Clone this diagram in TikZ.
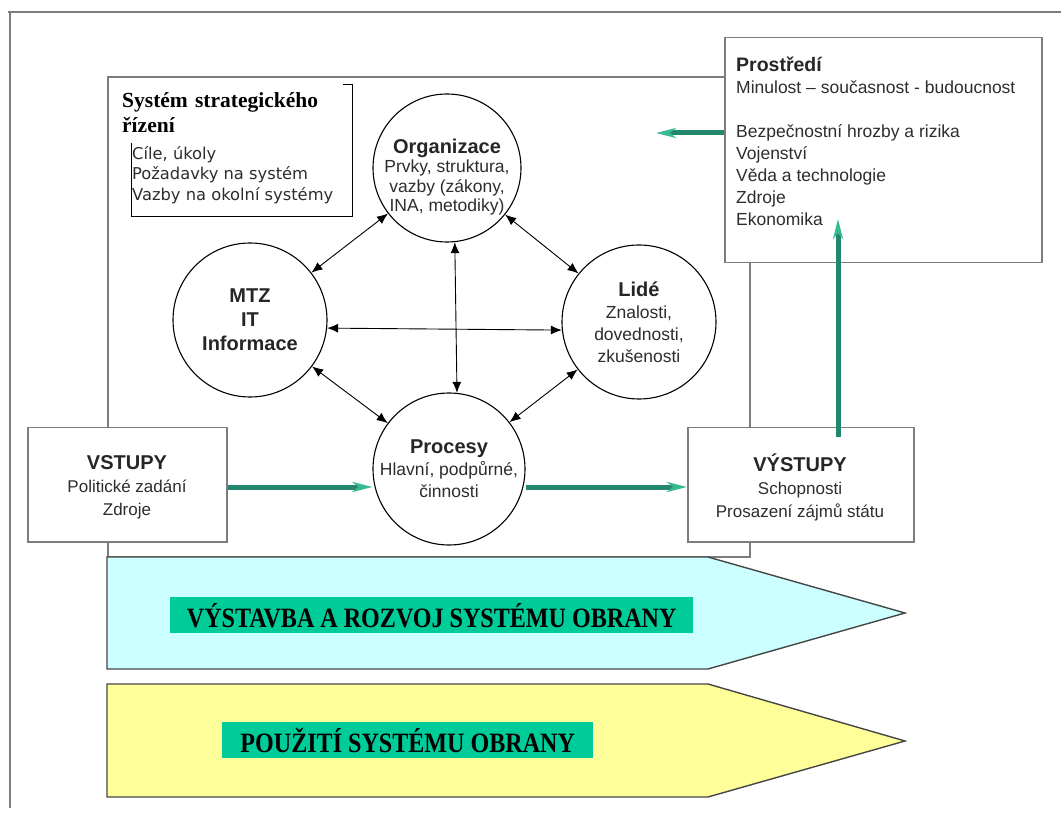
\documentclass[tikz,border=0pt]{standalone}
\usepackage{fontspec}
\usepackage{graphicx}
\setmainfont{Liberation Sans}
\newfontfamily\serifbold{Liberation Serif}[BoldFont={* Bold}]
\newfontfamily\plainsans{DejaVu Sans}
\usetikzlibrary{arrows.meta}

\definecolor{framegray}{RGB}{125,125,125}
\definecolor{flowgreen}{RGB}{35,135,110}
\definecolor{tipgreen}{RGB}{55,185,145}
\definecolor{labelgreen}{RGB}{0,204,153}
\definecolor{cyanfill}{RGB}{204,255,255}
\definecolor{yellowfill}{RGB}{255,255,153}
\definecolor{bodytext}{RGB}{45,45,45}
\definecolor{bandedge}{RGB}{70,70,70}

\tikzset{
  frameline/.style={draw=framegray, line width=1.5pt},
  ring/.style={draw=black, circle, line width=1.1pt, fill=white, inner sep=0pt,
    align=center, text=bodytext},
  infobox/.style={draw=framegray, line width=1.5pt, fill=white, inner sep=0pt},
  link/.style={line width=0.9pt, {Latex[length=11pt,width=9pt]}-{Latex[length=11pt,width=9pt]}},
  flow/.style={draw=flowgreen, line width=5pt,
    -{Stealth[length=20pt,width=10pt,inset=6pt,color=tipgreen]}},
  band/.style={draw=bandedge, line width=1.4pt},
  bandlabel/.style={fill=labelgreen, inner sep=0pt, anchor=north west,
    font=\serifbold\bfseries\fontsize{28}{30}\selectfont},
}

\begin{document}
\begin{tikzpicture}[x=1pt,y=-1pt]
\useasboundingbox (0,0) rectangle (1061,818);
\fill[white] (0,0) rectangle (1061,818);

% outer frame
\draw[frameline] (8,12) -- (1061,12);
\draw[frameline] (10,12) -- (10,808);

% inner system frame
\draw[frameline] (108,77) rectangle (750,557);

% strategic management box
\node[draw=black, line width=1.1pt, inner sep=0pt, minimum width=221pt, minimum height=132pt,
  anchor=north west] (smbox) at (131,84) {};
\node[fill=white, inner sep=0pt, minimum width=232pt, minimum height=62pt, anchor=north west,
  text width=224pt, align=left, font=\serifbold\bfseries\fontsize{21.5}{25}\selectfont]
  (smtitle) at (111,81) {\hspace*{7pt}Systém strategického\\\hspace*{7pt}řízení};
\node[inner sep=0pt, anchor=north west, align=left, text=bodytext,
  font=\plainsans\fontsize{16.3}{20.5}\selectfont] (smbody) at (132,146)
  {Cíle, úkoly\\Požadavky na systém\\Vazby na okolní systémy};

% environment box
\node[infobox, minimum width=317pt, minimum height=225pt, anchor=north west] (env) at (724,37) {};
\node[inner sep=0pt, anchor=north west, align=left, text=bodytext,
  font=\fontsize{17.5}{22}\selectfont] (envtext) at (736,57)
  {{\bfseries\fontsize{19.5}{22}\selectfont\color{black!85}Prostředí}\\
   Minulost – současnost - budoucnost\\
   \mbox{}\\
   Bezpečnostní hrozby a rizika\\
   Vojenství\\
   Věda a technologie\\
   Zdroje\\
   Ekonomika};

% inputs and outputs
\node[infobox, minimum width=199pt, minimum height=114pt, anchor=north west] (vst) at (27,427) {};
\node[align=center, text=bodytext, font=\fontsize{17}{23}\selectfont] (vsttext) at (127,487)
  {{\bfseries\fontsize{20}{23}\selectfont\color{black!85}VSTUPY}\\Politické zadání\\Zdroje};
\node[infobox, minimum width=226pt, minimum height=114pt, anchor=north west] (vyst) at (687,427) {};
\node[align=center, text=bodytext, font=\fontsize{17}{23}\selectfont] (vysttext) at (800,487)
  {{\bfseries\fontsize{20}{23}\selectfont\color{black!85}VÝSTUPY}\\Schopnosti\\Prosazení zájmů státu};

% the four circles
\node[ring, minimum size=148pt] (org) at (447,168) {};
\node[align=center, text=bodytext, font=\fontsize{17.5}{19.5}\selectfont] (orgtext) at (447,177)
  {{\bfseries\fontsize{20}{21}\selectfont\color{black!85}Organizace}\\Prvky, struktura,\\vazby (zákony,\\INA, metodiky)};
\node[ring, minimum size=154pt, font=\bfseries\fontsize{20}{24}\selectfont] (mtz) at (250,320)
  {\color{black!85}MTZ\\\color{black!85}IT\\\color{black!85}Informace};
\node[ring, minimum size=154pt, font=\fontsize{17.5}{22}\selectfont] (lide) at (639,322)
  {{\bfseries\fontsize{20}{22}\selectfont\color{black!85}Lidé}\\Znalosti,\\dovednosti,\\zkušenosti};
\node[ring, minimum size=152pt, font=\fontsize{17.5}{22}\selectfont] (proc) at (449,469)
  {{\bfseries\fontsize{20}{22}\selectfont\color{black!85}Procesy}\\Hlavní, podpůrné,\\činnosti};

% links between the circles
\draw[link] (mtz) -- (org);
\draw[link] (org) -- (lide);
\draw[link] (mtz) -- (proc);
\draw[link] (lide) -- (proc);
\draw[link] (mtz.-6) -- (lide.186);
\draw[link] (org.-84) -- (proc.84);

% main flow
\coordinate (inflow) at (vst.east |- 0,487);
\draw[flow] (inflow) -- (proc.west |- inflow);
\coordinate (outflow) at (vyst.west |- 0,487);
\draw[flow] (proc.east |- outflow) -- (outflow);
\coordinate (upfoot) at (838,437);
\coordinate (uptip) at (838,219);
\draw[flow] (upfoot) -- (uptip);
\coordinate (envout) at (env.west |- 0,133);
\coordinate (envin) at (656,133);
\draw[flow] (envout) -- (envin);

% the two bands
\draw[band, fill=cyanfill] (107,557) -- (708,557) -- (905,613) -- (708,669) -- (107,669) -- cycle;
\draw[band, fill=yellowfill] (107,684) -- (708,684) -- (905,741) -- (708,797) -- (107,797) -- cycle;
\node[bandlabel, minimum width=523pt, minimum height=36pt] (buildlbl) at (170,597)
  {\scalebox{0.86}[1]{VÝSTAVBA A ROZVOJ SYSTÉMU OBRANY}};
\node[bandlabel, minimum width=371pt, minimum height=36pt] (uselbl) at (222,722)
  {\scalebox{0.86}[1]{POUŽITÍ SYSTÉMU OBRANY}};
\end{tikzpicture}
\end{document}
